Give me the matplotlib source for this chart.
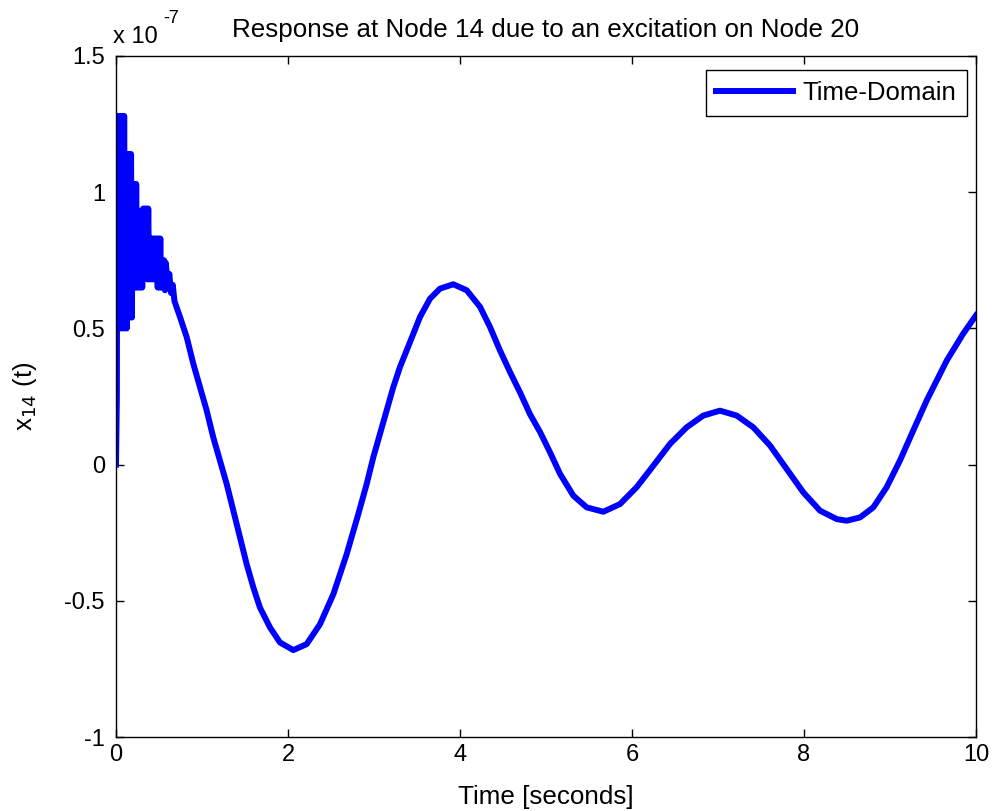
import matplotlib
matplotlib.use('Agg')
import matplotlib.pyplot as plt
import numpy as np

plt.rcParams['font.family'] = ['Liberation Sans', 'DejaVu Sans']

# early burst (rapid oscillation), units of 1e-7
t_burst = [0.000, 0.010, 0.015, 0.025, 0.035, 0.045, 0.055, 0.065, 0.075, 0.085, 0.095,
           0.105, 0.115, 0.125, 0.135, 0.145, 0.155, 0.165, 0.175, 0.185,
           0.195, 0.205, 0.215, 0.225, 0.235, 0.245,
           0.255, 0.265, 0.275, 0.285, 0.295, 0.305,
           0.315, 0.325, 0.335, 0.345, 0.355,
           0.365, 0.375, 0.385, 0.395, 0.405, 0.415, 0.425, 0.435, 0.445,
           0.455, 0.465, 0.475, 0.485, 0.495, 0.505, 0.515, 0.525,
           0.54, 0.55, 0.56, 0.57, 0.58, 0.60, 0.62, 0.64, 0.66, 0.68]
x_burst = [0.00, 0.25, 1.28, 0.50, 1.28, 0.50, 1.28, 0.50, 1.28, 0.50, 1.28,
           0.50, 1.14, 0.50, 1.14, 0.54, 1.14, 0.54, 1.14, 0.54,
           1.03, 0.65, 1.03, 0.65, 1.03, 0.65,
           0.93, 0.65, 0.93, 0.65, 0.93, 0.65,
           0.94, 0.76, 0.94, 0.76, 0.94,
           0.68, 0.94, 0.68, 0.83, 0.68, 0.83, 0.68, 0.83, 0.68,
           0.83, 0.68, 0.83, 0.65, 0.83, 0.65, 0.83, 0.65,
           0.75, 0.65, 0.75, 0.64, 0.74, 0.66, 0.70, 0.63, 0.66, 0.60]

# smooth decaying part
t_main = [0.744, 0.822, 0.899, 0.977, 1.054, 1.131, 1.209, 1.287, 1.364, 1.442,
          1.519, 1.597, 1.674, 1.791, 1.907, 2.062, 2.217, 2.372, 2.527, 2.682,
          2.818, 2.915, 2.992, 3.07, 3.147, 3.224, 3.302, 3.38, 3.457, 3.535,
          3.651, 3.767, 3.922, 4.078, 4.233, 4.349, 4.465, 4.581, 4.698, 4.814,
          4.93, 5.047, 5.163, 5.318, 5.473, 5.667, 5.86, 6.054, 6.248, 6.442,
          6.636, 6.829, 7.023, 7.217, 7.41, 7.605, 7.798, 7.992, 8.186, 8.38,
          8.496, 8.651, 8.806, 8.961, 9.116, 9.27, 9.426, 9.66, 9.85, 10.0]
x_main = [0.542, 0.468, 0.370, 0.284, 0.199, 0.100, 0.015, -0.071, -0.169, -0.267,
          -0.365, -0.451, -0.525, -0.598, -0.653, -0.681, -0.659, -0.586, -0.476, -0.329,
          -0.181, -0.071, 0.027, 0.113, 0.199, 0.284, 0.358, 0.419, 0.480, 0.542,
          0.609, 0.646, 0.662, 0.640, 0.579, 0.505, 0.419, 0.340, 0.265, 0.185,
          0.120, 0.045, -0.034, -0.114, -0.157, -0.173, -0.145, -0.083, -0.004, 0.076,
          0.137, 0.180, 0.198, 0.180, 0.137, 0.070, -0.016, -0.102, -0.169, -0.200,
          -0.206, -0.194, -0.157, -0.083, 0.015, 0.125, 0.235, 0.382, 0.480, 0.548]

t = np.array(t_burst + t_main)
x = np.array(x_burst + x_main)

fig = plt.figure(figsize=(9.96, 8.11), dpi=100)
ax = fig.add_axes([116/996, 1-737/811, 860/996, 681/811])

ax.plot(t, x, color='#0000ff', linewidth=4.3, solid_joinstyle='round',
        label='Time-Domain')

ax.set_xlim(0, 10)
ax.set_ylim(-1, 1.5)
ax.set_xticks([0, 2, 4, 6, 8, 10])
ax.set_yticks([-1, -0.5, 0, 0.5, 1, 1.5])
ax.set_yticklabels(['-1', '-0.5', '0', '0.5', '1', '1.5'])
ax.tick_params(direction='in', length=6, width=1, top=True, right=True,
               labelsize=17)
ax.tick_params(axis='y', pad=8)
ax.tick_params(axis='x', pad=5)
for s in ax.spines.values():
    s.set_linewidth(1)

# exponent label, MATLAB style
fig.text(113/996, 1-43/811, 'x 10', fontsize=17, ha='left', va='baseline')
fig.text(163/996, 1-23/811, '-7', fontsize=13, ha='left', va='baseline')

ax.set_title('Response at Node 14 due to an excitation on Node 20', fontsize=18.7, pad=14)
ax.set_xlabel('Time [seconds]', fontsize=18.7, labelpad=14)
ax.set_ylabel(r'x$_{14}$ (t)', fontsize=18.7, labelpad=18)

leg = ax.legend(loc='upper right', fontsize=18.5, fancybox=False, framealpha=1,
                edgecolor='black', handlelength=3.0, handletextpad=0.35,
                borderpad=0.42, borderaxespad=0,
                bbox_to_anchor=(0.9895, 0.9794))
leg.get_frame().set_linewidth(1)

fig.savefig('out.png', dpi=100)
